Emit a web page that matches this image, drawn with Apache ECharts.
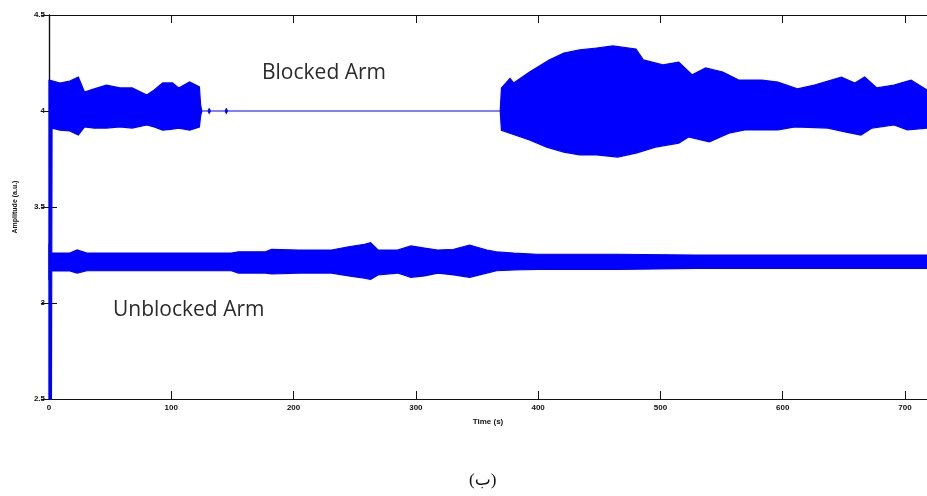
<!DOCTYPE html>
<html>
<head>
<meta charset="utf-8">
<script src="https://cdn.jsdelivr.net/npm/echarts@6/dist/echarts.min.js"></script>
<style>html,body{margin:0;padding:0;background:#fff}#c{width:927px;height:496px}</style>
</head>
<body>
<div id="c"></div>
<script>
// Blocked arm: upper / lower envelope of the oscillating signal
const blkUpT = [0,1,9,17,24,29,37,47,58,68,80,86,93,101,106,115,123,124,125,130,131,132,144,145,146,368,369,370,377,380,393,409,421,434,448,461,480,486,502,515,526,537,551,564,583,596,612,626,648,659,667,677,691,705,718];
const blkUpV = [4.16,4.16,4.146,4.156,4.177,4.099,4.115,4.135,4.12,4.12,4.083,4.11,4.146,4.146,4.12,4.151,4.125,4.03,4.0,4.0,4.012,4.0,4.0,4.012,4.0,4.0,4.0,4.12,4.17,4.146,4.203,4.266,4.302,4.318,4.328,4.339,4.323,4.266,4.24,4.255,4.188,4.224,4.203,4.161,4.161,4.151,4.115,4.135,4.177,4.146,4.177,4.12,4.135,4.161,4.109];
const blkLoT = [0,2,2.5,9,17,24,29,37,47,58,68,80,86,93,101,106,115,123,124,125,130,131,132,144,145,146,368,369,370,393,407,421,434,448,465,480,496,515,523,540,556,569,596,610,637,651,664,673,691,702,718];
const blkLoV = [2.5,2.5,3.911,3.90,3.896,3.875,3.917,3.911,3.911,3.917,3.911,3.927,3.917,3.90,3.906,3.911,3.90,3.917,3.975,4.0,4.0,3.988,4.0,4.0,3.988,4.0,4.0,4.0,3.90,3.849,3.812,3.786,3.771,3.771,3.76,3.781,3.812,3.833,3.865,3.839,3.885,3.901,3.901,3.917,3.911,3.891,3.875,3.911,3.927,3.901,3.911];
// Unblocked arm
const unbT   = [0,1,17,23,31,149,155,177,182,204,218,231,245,258,263,269,285,296,307,318,331,344,358,366,380,399,464,529,718];
const unbUpV = [3.31,3.26,3.26,3.276,3.26,3.26,3.267,3.267,3.28,3.276,3.276,3.276,3.293,3.306,3.314,3.276,3.276,3.297,3.286,3.276,3.28,3.302,3.276,3.267,3.26,3.254,3.254,3.25,3.25];
const unbLoV = [3.12,3.167,3.167,3.156,3.168,3.168,3.156,3.156,3.151,3.156,3.156,3.156,3.141,3.129,3.123,3.146,3.156,3.134,3.141,3.156,3.146,3.134,3.156,3.168,3.172,3.175,3.175,3.18,3.18];

const xMin = 0, xMax = 718, xStep = 100;
const yMin = 2.5, yMax = 4.5, yStep = 0.5;

const chart = echarts.init(document.getElementById('c'), null, {renderer:'canvas'});

function bandSeries(name, upT, upV, loT, loV) {
  return {
    type: 'custom', name: name, xAxisIndex: 0, yAxisIndex: 0, clip: false, z: 5,
    data: [[upT[0], upV[0]]],
    renderItem: function (params, api) {
      const pts = [];
      for (let i = 0; i < upT.length; i++) pts.push(api.coord([upT[i], upV[i]]));
      for (let i = loT.length - 1; i >= 0; i--) pts.push(api.coord([loT[i], loV[i]]));
      return { type: 'polygon', shape: { points: pts },
        style: { fill: '#0000ff', stroke: '#0000ff', lineWidth: 1.2 } };
    }
  };
}

const tickFont = { fontSize: 8, fontWeight: 'bold', color: '#111', fontFamily: 'Liberation Sans' };
const axLine = { show: true, lineStyle: { color: '#111', width: 1.2 } };

chart.setOption({
  animation: false,
  grid: { left: 49, top: 15, width: 884, bottom: 97, containLabel: false },
  xAxis: [
    { type: 'value', position: 'bottom', min: xMin, max: xMax, interval: xStep,
      name: 'Time (s)', nameLocation: 'middle', nameGap: 19,
      nameTextStyle: { fontSize: 8, fontWeight: 'bold', color: '#111', fontFamily: 'Liberation Sans' },
      axisLine: axLine, axisTick: { inside: true, length: 8, lineStyle: { color: '#111' } },
      axisLabel: Object.assign({ margin: 5, showMaxLabel: false }, tickFont), splitLine: { show: false } },
    { type: 'value', position: 'top', min: xMin, max: xMax, interval: xStep,
      axisLine: axLine, axisTick: { inside: true, length: 8, lineStyle: { color: '#111' } },
      axisLabel: { show: false }, splitLine: { show: false } }
  ],
  yAxis: [
    { type: 'value', position: 'left', min: yMin, max: yMax, interval: yStep,
      name: 'Amplitude (a.u.)', nameLocation: 'middle', nameGap: 30,
      nameTextStyle: { fontSize: 7, fontWeight: 'bold', color: '#111', fontFamily: 'Liberation Sans' },
      axisLine: axLine, axisTick: { inside: true, length: 8, lineStyle: { color: '#111' } },
      axisLabel: Object.assign({ margin: 4 }, tickFont), splitLine: { show: false } },
    { type: 'value', position: 'right', min: yMin, max: yMax, interval: yStep,
      axisLine: axLine, axisTick: { inside: true, length: 8, lineStyle: { color: '#111' } },
      axisLabel: { show: false }, splitLine: { show: false } }
  ],
  series: [
    bandSeries('Unblocked Arm', unbT, unbUpV, unbT, unbLoV),
    bandSeries('Blocked Arm', blkUpT, blkUpV, blkLoT, blkLoV)
  ],
  graphic: [
    { type: 'text', left: 262, top: 63, style: { text: 'Blocked Arm', fontSize: 21, fontFamily: 'Open Sans', fill: '#2b2b2b' } },
    { type: 'text', left: 113, top: 300, style: { text: 'Unblocked Arm', fontSize: 21, fontFamily: 'Open Sans', fill: '#2b2b2b' } },
    { type: 'text', left: 469, top: 472, style: { text: '(ب)', fontSize: 17, fontFamily: 'Liberation Serif, DejaVu Sans', fill: '#111' } }
  ]
});
</script>
</body>
</html>
